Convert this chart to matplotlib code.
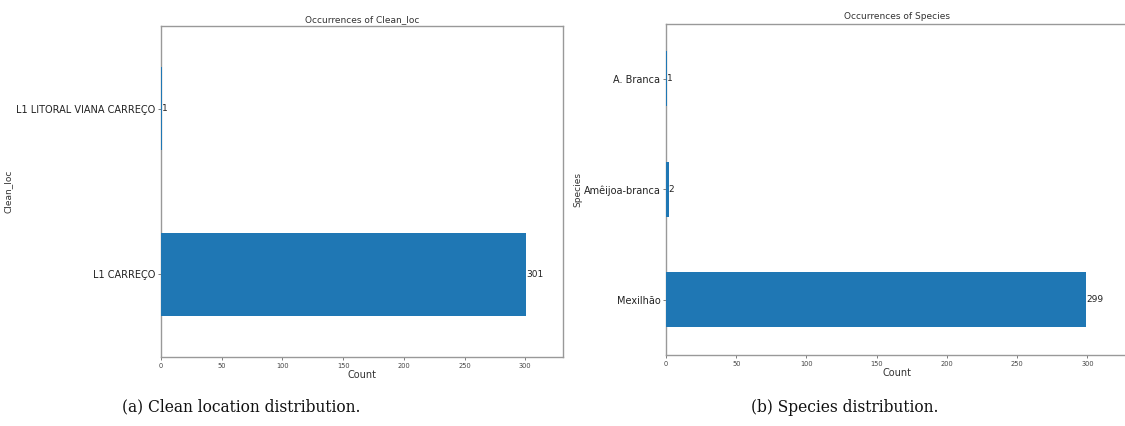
import matplotlib
matplotlib.use("Agg")
import matplotlib.pyplot as plt

loc_categories = ["L1 CARREÇO", "L1 LITORAL VIANA CARREÇO"]
loc_counts = [301, 1]
species_categories = ["Mexilhão", "Amêijoa-branca", "A. Branca"]
species_counts = [299, 2, 1]
x_ticks = [0, 50, 100, 150, 200, 250, 300]

W, H = 1125, 426
fig = plt.figure(figsize=(W / 100, H / 100), dpi=100)
fig.patch.set_facecolor("white")

spine_col = "#999999"


def panel(rect, cats, vals, title, ylabel):
    ax = fig.add_axes(rect)
    ypos = list(range(len(cats)))
    bars = ax.barh(ypos, vals, height=0.5, color="#1f77b4", zorder=3)
    ax.set_yticks(ypos)
    ax.set_yticklabels(cats, fontsize=7, color="#222222")
    ax.set_xticks(x_ticks)
    ax.set_xticklabels([str(t) for t in x_ticks], fontsize=4.8, color="#444444")
    ax.set_ylim(-0.5, len(cats) - 0.5)
    ax.set_xlim(0, max(vals) * 1.1)
    ax.set_title(title, fontsize=6.5, color="#333333", pad=3)
    ax.set_xlabel("Count", fontsize=7, color="#333333", labelpad=1)
    ax.set_ylabel(ylabel, fontsize=6.5, color="#333333")
    ax.bar_label(bars, labels=[str(v) for v in vals], padding=0, fontsize=6.5, color="#222222")
    for s in ax.spines.values():
        s.set_color(spine_col)
        s.set_linewidth(1.0)
    ax.tick_params(axis="both", length=2.5, width=0.6, color="#666666", pad=1.5)
    return ax


ax1 = panel([161 / W, (H - 357) / H, 402 / W, 331 / H], loc_categories, loc_counts,
            "Occurrences of Clean_loc", "Clean_loc")
ax1.yaxis.set_label_coords(-0.37, 0.5)

ax2 = panel([666 / W, (H - 355) / H, 462 / W, 331.5 / H], species_categories, species_counts,
            "Occurrences of Species", "Species")
ax2.yaxis.set_label_coords(-0.18, 0.5)

fig.text(241 / W, 1 - 407 / H, "(a) Clean location distribution.", ha="center", va="center",
         fontsize=11.2, family="DejaVu Serif", color="#111111")
fig.text(845 / W, 1 - 407 / H, "(b) Species distribution.", ha="center", va="center",
         fontsize=11.2, family="DejaVu Serif", color="#111111")

fig.savefig("out.png", dpi=100, facecolor="white")
